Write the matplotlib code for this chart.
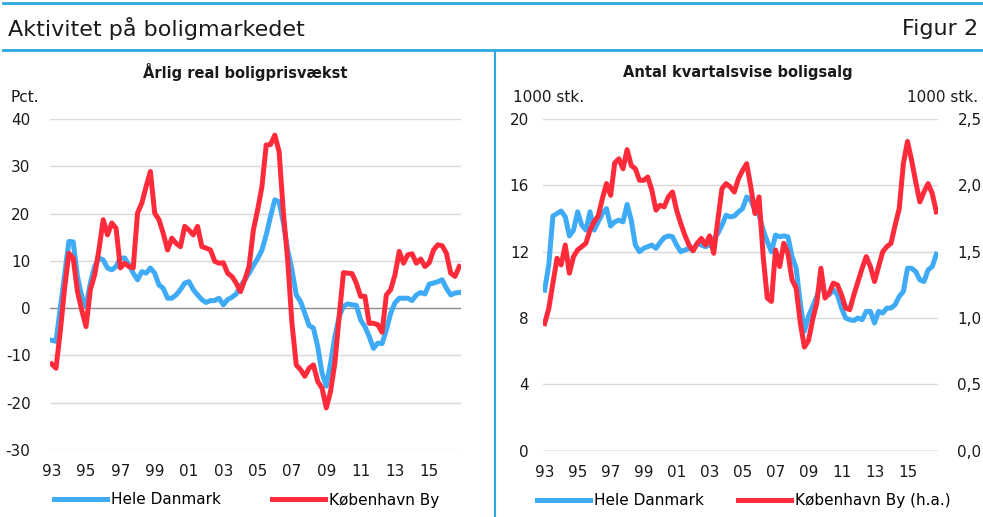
import numpy as np
import matplotlib
matplotlib.use('Agg')
import matplotlib.pyplot as plt
from matplotlib.lines import Line2D

plt.rcParams['axes.unicode_minus'] = False

# quarterly data 1993Q1 - 2016Q4
years = 1993 + np.arange(96) / 4.0

# real house price growth, pct.
prices_dk = [-6.8, -7.0, 0.0, 7.0, 14.1, 14.0, 6.7, 2.5, 0.3, 5.3, 8.8, 10.6,
             10.2, 8.5, 8.1, 8.8, 10.6, 10.6, 9.2, 7.4, 6.0, 7.7, 7.4, 8.5,
             7.4, 4.9, 4.2, 2.1, 2.1, 2.8, 3.9, 5.3, 5.6, 3.9, 2.8, 1.8,
             1.2, 1.6, 1.6, 2.1, 0.7, 1.8, 2.3, 3.0, 4.6, 6.0, 7.4, 9.0,
             10.5, 12.3, 15.5, 19.4, 22.9, 22.5, 18.0, 12.3, 8.1, 2.8, 1.4, -1.1,
             -3.7, -4.2, -8.1, -13.7, -16.5, -11.6, -6.0, -1.8, 0.4, 0.9, 0.7, 0.6,
             -2.5, -3.9, -6.0, -8.5, -7.4, -7.5, -4.6, -1.1, 1.1, 2.1, 2.1, 2.1,
             1.6, 2.8, 3.3, 3.0, 5.1, 5.3, 5.6, 6.0, 4.2, 2.8, 3.2, 3.3]
prices_cph = [-11.8, -12.7, -4.9, 4.2, 11.6, 10.6, 3.5, -0.4, -3.9, 3.9, 7.0, 12.3,
              18.7, 15.5, 18.0, 16.9, 8.5, 9.5, 8.8, 8.5, 20.1, 22.2, 25.7, 28.9,
              20.1, 18.7, 15.8, 12.3, 14.8, 13.7, 13.0, 17.3, 16.5, 15.5, 17.3, 13.0,
              12.7, 12.3, 9.9, 9.5, 9.6, 7.4, 6.7, 5.3, 3.5, 6.0, 8.8, 16.5,
              20.8, 25.7, 34.5, 34.6, 36.6, 33.1, 20.1, 10.2, -3.2, -12.0, -13.0, -14.4,
              -12.7, -12.0, -15.5, -16.9, -21.1, -17.6, -11.6, -1.8, 7.5, 7.4, 7.3, 5.3,
              2.5, 2.5, -3.2, -3.2, -3.5, -5.1, 2.8, 3.9, 7.0, 12.0, 9.5, 11.3,
              11.5, 9.5, 10.4, 8.8, 9.6, 12.3, 13.4, 13.2, 11.6, 7.4, 6.7, 8.8]

# quarterly sales, 1000 units
sales_dk = [9.68, 11.2, 14.15, 14.3, 14.45, 14.1, 12.95, 13.3, 14.4, 13.6, 13.3, 14.4,
            13.3, 13.8, 14.3, 14.6, 13.55, 13.8, 13.9, 13.8, 14.85, 13.9, 12.4, 12.0,
            12.2, 12.3, 12.4, 12.2, 12.55, 12.85, 12.95, 12.9, 12.4, 12.0, 12.1, 12.2,
            12.1, 12.5, 12.4, 12.3, 12.4, 12.8, 13.1, 13.6, 14.2, 14.1, 14.15, 14.4,
            14.6, 15.3, 15.1, 14.5, 14.2, 13.3, 12.6, 12.0, 13.0, 12.9, 12.95, 12.9,
            11.7, 11.0, 8.9, 7.2, 8.1, 8.7, 9.3, 10.1, 9.5, 9.4, 9.7, 9.4,
            8.6, 8.0, 7.9, 7.85, 8.0, 7.9, 8.4, 8.4, 7.7, 8.4, 8.3, 8.6,
            8.6, 8.8, 9.3, 9.6, 11.0, 11.0, 10.8, 10.3, 10.2, 10.9, 11.1, 11.85]
sales_cph = [0.958, 1.071, 1.263, 1.450, 1.400, 1.550, 1.338, 1.463, 1.513, 1.538, 1.563, 1.663,
             1.725, 1.769, 1.900, 2.013, 1.925, 2.169, 2.200, 2.125, 2.269, 2.150, 2.125, 2.038,
             2.038, 2.063, 1.963, 1.813, 1.850, 1.838, 1.913, 1.950, 1.813, 1.713, 1.625, 1.550,
             1.506, 1.563, 1.600, 1.550, 1.619, 1.488, 1.738, 1.975, 2.013, 1.988, 1.950, 2.050,
             2.113, 2.163, 1.988, 1.788, 1.913, 1.463, 1.150, 1.125, 1.513, 1.388, 1.563, 1.488,
             1.288, 1.225, 0.963, 0.781, 0.831, 0.988, 1.113, 1.375, 1.150, 1.188, 1.263, 1.250,
             1.175, 1.075, 1.063, 1.175, 1.275, 1.375, 1.463, 1.388, 1.275, 1.388, 1.500, 1.538,
             1.563, 1.700, 1.825, 2.163, 2.331, 2.188, 2.025, 1.875, 1.950, 2.013, 1.938, 1.800]

xtick_years = list(range(1993, 2016, 2))
xtick_labels = ['%02d' % (y % 100) for y in xtick_years]

BLUE = '#3FABF7'
RED = '#FF2B3B'
FRAME = '#2AA8E0'
GRID = '#D9D9D9'
ZERO = '#8C8C8C'
TXT = '#1A1A1A'

W, H = 983, 517
fig = plt.figure(figsize=(W / 100, H / 100), dpi=100)


def px_axes(x0, x1, ytop, ybot):
    return fig.add_axes([x0 / W, 1 - ybot / H, (x1 - x0) / W, (ybot - ytop) / H])


def style_axes(ax):
    for s in ax.spines.values():
        s.set_visible(False)
    ax.tick_params(length=0, labelsize=11, colors=TXT)
    ax.tick_params(axis='x', pad=10)
    ax.set_xticks(xtick_years)
    ax.set_xticklabels(xtick_labels)
    ax.set_xlim(years[0] - 0.1, years[-1] + 0.1)


# frame lines
fig.add_artist(Line2D([3 / W, 1], [1 - 3 / H, 1 - 3 / H], color=FRAME, lw=2))
fig.add_artist(Line2D([3 / W, 1], [1 - 50 / H, 1 - 50 / H], color=FRAME, lw=2))
fig.add_artist(Line2D([495 / W, 495 / W], [0, 1 - 50 / H], color=FRAME, lw=1.5))

fig.text(8 / W, 1 - 29 / H, 'Aktivitet på boligmarkedet', fontsize=16, va='center', ha='left', color=TXT)
fig.text(978 / W, 1 - 29 / H, 'Figur 2', fontsize=16, va='center', ha='right', color=TXT)

# left panel
ax1 = px_axes(50, 461, 119, 450)
style_axes(ax1)
ax1.set_ylim(-30, 40)
ax1.set_yticks(range(-30, 41, 10))
for v in range(-30, 41, 10):
    ax1.axhline(v, color=ZERO if v == 0 else GRID, lw=1, zorder=0)
ax1.plot(years, prices_dk, color=BLUE, lw=3.6, solid_joinstyle='round', label='Hele Danmark')
ax1.plot(years, prices_cph, color=RED, lw=3.6, solid_joinstyle='round', label='København By')
ax1.tick_params(axis='y', pad=14)
ax1.legend(loc='center left', bbox_to_anchor=(4 / 411, -50 / 331), ncol=2, frameon=False, fontsize=11,
           handlelength=3.5, handletextpad=0.25, columnspacing=3.3, borderaxespad=0, borderpad=0)
fig.text(245 / W, 1 - 72 / H, 'Årlig real boligprisvækst', fontsize=10.5, fontweight='bold',
         ha='center', va='center', color=TXT)
fig.text(10 / W, 1 - 97 / H, 'Pct.', fontsize=11, ha='left', va='center', color=TXT)

# right panel
ax2 = px_axes(543, 938, 119, 450.7)
style_axes(ax2)
ax2.set_ylim(0, 20)
ax2.set_yticks(range(0, 21, 4))
for v in range(0, 21, 4):
    ax2.axhline(v, color=ZERO if v == 0 else GRID, lw=1, zorder=0)
ax2.tick_params(axis='y', pad=10)
l1, = ax2.plot(years, sales_dk, color=BLUE, lw=3.6, solid_joinstyle='round', label='Hele Danmark')
ax3 = ax2.twinx()
for s in ax3.spines.values():
    s.set_visible(False)
ax3.set_ylim(0, 2.5)
ax3.set_yticks(np.arange(0, 2.51, 0.5))
ax3.set_yticklabels([('%.1f' % v).replace('.', ',') for v in np.arange(0, 2.51, 0.5)])
ax3.tick_params(length=0, labelsize=11, colors=TXT, pad=14)
l2, = ax3.plot(years, sales_cph, color=RED, lw=3.6, solid_joinstyle='round', label='København By (h.a.)')
ax3.legend([l1, l2], [l1.get_label(), l2.get_label()], loc='center left', bbox_to_anchor=(-6 / 395, -50 / 331.7),
           ncol=2, frameon=False, fontsize=11, handlelength=3.5, handletextpad=0.25,
           columnspacing=2.2, borderaxespad=0, borderpad=0)
fig.text(738 / W, 1 - 72 / H, 'Antal kvartalsvise boligsalg', fontsize=10.5, fontweight='bold',
         ha='center', va='center', color=TXT)
fig.text(513 / W, 1 - 97 / H, '1000 stk.', fontsize=11, ha='left', va='center', color=TXT)
fig.text(978 / W, 1 - 97 / H, '1000 stk.', fontsize=11, ha='right', va='center', color=TXT)

fig.savefig('out.png', dpi=100)
